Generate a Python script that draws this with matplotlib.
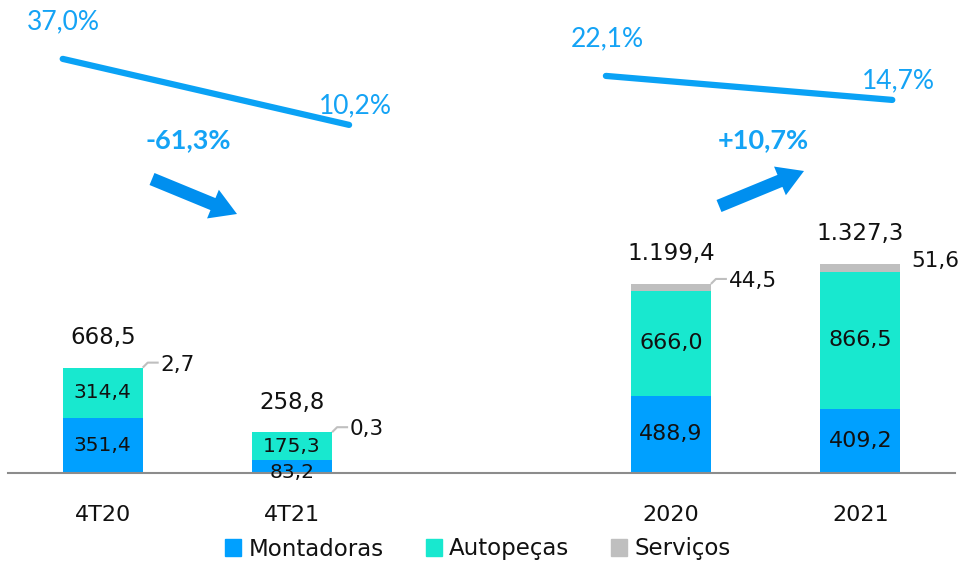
import matplotlib
matplotlib.use('Agg')
import matplotlib.pyplot as plt
from matplotlib.patches import Patch, FancyArrow
import numpy as np

plt.rcParams['font.family'] = ['DejaVu Sans']
PCT_FONT = ['Lato', 'DejaVu Sans']

# ---------------- data ----------------
categories = ['4T20', '4T21', '2020', '2021']
montadoras = [351.4, 83.2, 488.9, 409.2]
autopecas = [314.4, 175.3, 666.0, 866.5]
servicos = [2.7, 0.3, 44.5, 51.6]
totals = [668.5, 258.8, 1199.4, 1327.3]
mont_labels = ['351,4', '83,2', '488,9', '409,2']
auto_labels = ['314,4', '175,3', '666,0', '866,5']
serv_labels = ['2,7', '0,3', '44,5', '51,6']
total_labels = ['668,5', '258,8', '1.199,4', '1.327,3']
margin_quarter = [37.0, 10.2]
margin_year = [22.1, 14.7]
margin_quarter_labels = ['37,0%', '10,2%']
margin_year_labels = ['22,1%', '14,7%']
growth_labels = ['-61,3%', '+10,7%']
legend_labels = ['Montadoras', 'Autopeças', 'Serviços']

# ---------------- style ----------------
C_BLUE = '#00A0FF'
C_TEAL = '#18E8CF'
C_GRAY = '#BFBFBF'
C_LINE = '#0AA2F5'
C_ARROW = '#008FEF'
C_PCT = '#14A3F5'
C_TXT = '#111111'

W, H = 962, 562
fig = plt.figure(figsize=(W / 100, H / 100), dpi=100)
ax = fig.add_axes([8 / W, (H - 473) / H, 947 / W, 473 / H])
xpos = np.array([0, 1, 3, 4])
ax.set_xlim(-0.5, 4.5)
ax.set_ylim(0, 3001)
px_x = 5.0 / 947      # data units per pixel (x)
px_y = 3001 / 473     # data units per pixel (y)
bw = 80 * px_x

mont = np.array(montadoras)
auto = np.array(autopecas)
serv = np.array(servicos)
ax.bar(xpos, mont, bw, color=C_BLUE, zorder=2)
ax.bar(xpos, auto, bw, bottom=mont, color=C_TEAL, zorder=2)
ax.bar(xpos, serv, bw, bottom=mont + auto, color=C_GRAY, zorder=2)

serv_texts = []
for i, x in enumerate(xpos):
    seg_fs = 14.5 if i < 2 else 16
    dy = -6 if mont[i] < 150 else 0
    ax.annotate(mont_labels[i], (x, mont[i] / 2), xytext=(0, dy), textcoords='offset pixels',
                ha='center', va='center', fontsize=seg_fs, color=C_TXT, zorder=5)
    ax.annotate(auto_labels[i], (x, mont[i] + auto[i] / 2), xytext=(0, 0), textcoords='offset pixels',
                ha='center', va='center', fontsize=seg_fs, color=C_TXT, zorder=5)
    top = totals[i]
    ax.annotate(total_labels[i], (x, top), xytext=(0, 30), textcoords='offset pixels',
                ha='center', va='center', fontsize=16.5, color=C_TXT)
    right = x + bw / 2
    t = ax.annotate(serv_labels[i], (right, top), xytext=(18, 3), textcoords='offset pixels',
                    ha='left', va='center', fontsize=15.5, color=C_TXT)
    serv_texts.append(t)
    if i < 3:
        ax.plot([right, right + 5 * px_x, right + 16 * px_x],
                [top, top + 5 * px_y, top + 5 * px_y], color=C_GRAY, lw=1.5,
                solid_capstyle='butt', zorder=3)

for s in ['top', 'left', 'right']:
    ax.spines[s].set_visible(False)
ax.spines['bottom'].set_color('#8C8C8C')
ax.spines['bottom'].set_linewidth(1.5)
ax.spines['bottom'].set_zorder(4)
ax.set_yticks([])
ax.set_xticks(xpos)
ax.set_xticklabels(categories, fontsize=16, color=C_TXT)
ax.tick_params(axis='x', length=0, pad=23)

# margin lines (own scales)
axq = ax.twinx()
axq.set_ylim(-131.1, 60.9)
axy = ax.twinx()
axy.set_ylim(-100.3, 45.5)
for a in (axq, axy):
    a.axis('off')

qx = [xpos[0] - 40 * px_x, xpos[1] + 57 * px_x]
yx = [xpos[2] - 65 * px_x, xpos[3] + 32 * px_x]
axq.plot(qx, margin_quarter, color=C_LINE, lw=4.5, solid_capstyle='round')
axy.plot(yx, margin_year, color=C_LINE, lw=4.5, solid_capstyle='round')
for a, xs, vals, labs in ((axq, qx, margin_quarter, margin_quarter_labels),
                          (axy, yx, margin_year, margin_year_labels)):
    a.annotate(labs[0], (xs[0], vals[0]), xytext=(1, 37), textcoords='offset pixels',
               ha='center', va='center', fontsize=19, color=C_PCT, family=PCT_FONT)
    a.annotate(labs[1], (xs[1], vals[1]), xytext=(6, 19), textcoords='offset pixels',
               ha='center', va='center', fontsize=19, color=C_PCT, family=PCT_FONT)

# overlay in pixel coordinates for arrows / growth labels
ov = fig.add_axes([0, 0, 1, 1])
ov.set_xlim(0, W)
ov.set_ylim(H, 0)
ov.axis('off')
ov.text(188, 140, growth_labels[0], ha='center', va='center', fontsize=19.5,
        fontweight='bold', color=C_PCT, family=PCT_FONT)
ov.text(763, 140, growth_labels[1], ha='center', va='center', fontsize=19.5,
        fontweight='bold', color=C_PCT, family=PCT_FONT)
for (x0, y0, x1, y1) in ((152, 179, 237, 214), (719, 206, 804, 171)):
    ov.add_patch(FancyArrow(x0, y0, x1 - x0, y1 - y0, width=13, head_width=31,
                            head_length=26, length_includes_head=True,
                            color=C_ARROW, lw=0))

handles = [Patch(color=c) for c in (C_BLUE, C_TEAL, C_GRAY)]
fig.legend(handles, legend_labels, loc='center', bbox_to_anchor=(478 / W, 1 - 549 / H),
           ncol=3, frameon=False, fontsize=16.5, handlelength=0.7, handleheight=0.7,
           handletextpad=0.3, columnspacing=1.85, labelcolor=C_TXT)

# keep serviços labels inside the figure
fig.canvas.draw()
renderer = fig.canvas.get_renderer()
for t in serv_texts:
    bb = t.get_window_extent(renderer)
    overflow = bb.x1 - (W - 3)
    if overflow > 0:
        ox, oy = t.xyann
        t.xyann = (ox - overflow, oy)

fig.savefig('out.png', dpi=100)
